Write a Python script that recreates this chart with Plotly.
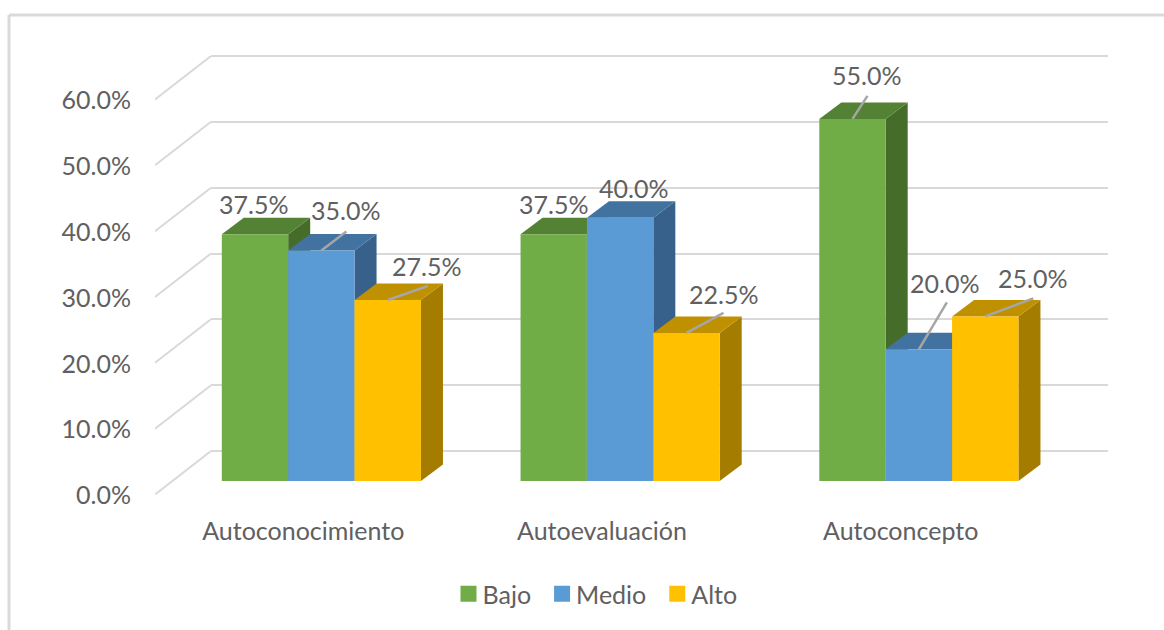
import plotly.graph_objects as go

categories = ["Autoconocimiento", "Autoevaluación", "Autoconcepto"]
series_names = ["Bajo", "Medio", "Alto"]
bajo = [37.5, 37.5, 55.0]
medio = [35.0, 40.0, 20.0]
alto = [27.5, 22.5, 25.0]
y_ticks = [0, 10, 20, 30, 40, 50, 60]
y_tick_labels = ["0.0%", "10.0%", "20.0%", "30.0%", "40.0%", "50.0%", "60.0%"]

front_colors = ["#70AD47", "#5B9BD5", "#FFC000"]
top_colors = ["#548235", "#4273A0", "#BF9000"]
side_colors = ["#466C2A", "#37618A", "#A47C00"]

FONT = "Lato"
FS = 25
TEXT = "#606060"
GRID = "#D9D9D9"
W, H = 1164, 630
cat_w = 298.75      # pixels per category
unit = 395 / 60.0   # pixels per percent
bar_w = (1 - 1 / 3) / 3
depth_x = 22 / cat_w
depth_y = 16.5 / unit

series = [bajo, medio, alto]
xs = list(range(len(categories)))


def dx(p0, p1):
    return [p0 / W, p1 / W]


def dy(bottom, top):
    return [1 - bottom / H, 1 - top / H]


fig = go.Figure()

# Front plane: carries the tick labels (x/y)
fig.add_trace(go.Scatter(x=[None], y=[None], xaxis="x", yaxis="y", showlegend=False))
# Back wall gridlines (x2/y2)
fig.add_trace(go.Scatter(x=[None], y=[None], xaxis="x2", yaxis="y2", showlegend=False))
# Left wall, joining each tick on the front plane to the back plane (x3/y3)
wall_rise = 43.5 / unit
wx, wy = [], []
for t in y_ticks:
    wx += [0, 1, None]
    wy += [t, t + wall_rise, None]
fig.add_trace(go.Scatter(x=wx, y=wy, mode="lines", xaxis="x3", yaxis="y3",
                         line=dict(color=GRID, width=2), showlegend=False, hoverinfo="skip"))

# Side and top faces, left to right, under the bar fronts (x4/y4)
for i in xs:
    for j, vals in enumerate(series):
        left = i + (j - 1.5) * bar_w
        right = left + bar_w
        v = vals[i]
        fig.add_trace(go.Scatter(
            x=[right, right + depth_x, right + depth_x, right, right],
            y=[0, depth_y, v + depth_y, v, 0],
            mode="lines", fill="toself", fillcolor=side_colors[j],
            line=dict(width=0, color=side_colors[j]),
            xaxis="x4", yaxis="y4", showlegend=False, hoverinfo="skip"))
        fig.add_trace(go.Scatter(
            x=[left, right, right + depth_x, left + depth_x, left],
            y=[v, v, v + depth_y, v + depth_y, v],
            mode="lines", fill="toself", fillcolor=top_colors[j],
            line=dict(width=0, color=top_colors[j]),
            xaxis="x4", yaxis="y4", showlegend=False, hoverinfo="skip"))

# Bar fronts (x5/y5)
for j, vals in enumerate(series):
    fig.add_trace(go.Bar(x=xs, y=vals, name=series_names[j], marker=dict(color=front_colors[j], line=dict(width=0)),
                         xaxis="x5", yaxis="y5", showlegend=False))

# Legend entries
for j, name in enumerate(series_names):
    fig.add_trace(go.Scatter(x=[None], y=[None], mode="markers", name=name,
                             marker=dict(symbol="square", size=16, color=front_colors[j]),
                             xaxis="x5", yaxis="y5"))

# Data labels: text offset and leader end, in pixels from the bar's top centre
label_offsets = [[(-1, 30), (24.5, 41), (39, 34)],
                 [(0, 30), (13, 30), (36.5, 39)],
                 [(14, 44), (25.5, 66), (47, 38)]]
leader_ends = [[None, (25, 19), (40, 14)],
               [None, None, (37, 20)],
               [(15, 23), (28, 47), (48, 18)]]
for i in xs:
    for j, vals in enumerate(series):
        cx = i + (j - 1) * bar_w
        v = vals[i]
        off = label_offsets[i][j]
        fig.add_annotation(x=cx, y=v, xref="x5", yref="y5", text=f"{v:.1f}%", showarrow=False,
                           xshift=off[0], yshift=off[1], font=dict(family=FONT, size=FS, color=TEXT),
                           xanchor="center", yanchor="middle")
        end = leader_ends[i][j]
        if end:
            fig.add_trace(go.Scatter(x=[cx, cx + end[0] / cat_w], y=[v, v + end[1] / unit], mode="lines",
                                     line=dict(color="#A6A6A6", width=2.5), xaxis="x5", yaxis="y5",
                                     showlegend=False, hoverinfo="skip"))

hidden = dict(visible=False, fixedrange=True)
x_range = [-0.5, 2.5]
y_range = [0, 60]
pad = 0.2  # keeps the first and last gridline inside the axis range

fig.update_layout(
    width=W, height=H, margin=dict(l=0, r=0, t=0, b=0, pad=0, autoexpand=False), autosize=False,
    paper_bgcolor="white", plot_bgcolor="rgba(0,0,0,0)", barmode="group", bargap=1 / 3, bargroupgap=0,
    font=dict(family=FONT, size=FS, color=TEXT), hovermode=False,
    xaxis=dict(domain=dx(154, 1050), range=x_range, tickmode="array", tickvals=xs, ticktext=categories,
               showgrid=False, zeroline=False, showline=False, ticks="", ticklabelstandoff=18,
               tickfont=dict(family=FONT, size=FS, color=TEXT), anchor="y", fixedrange=True),
    yaxis=dict(domain=dy(495.5, 100.5), range=y_range, tickmode="array", tickvals=y_ticks, ticktext=y_tick_labels,
               showgrid=False, zeroline=False, showline=False, ticks="", ticklabelstandoff=22,
               tickfont=dict(family=FONT, size=FS, color=TEXT), anchor="x", fixedrange=True),
    xaxis2=dict(domain=dx(211, 1108), range=x_range, anchor="y2", **hidden),
    yaxis2=dict(domain=dy(451 + pad * unit, 56 - pad * unit), range=[-pad, 60 + pad], anchor="x2",
                tickmode="array", tickvals=y_ticks,
                showgrid=True, gridcolor=GRID, gridwidth=2, zeroline=False, showline=False,
                showticklabels=False, ticks="", fixedrange=True),
    xaxis3=dict(domain=dx(155, 211), range=[0, 1], anchor="y3", **hidden),
    yaxis3=dict(domain=dy(494.5, 56), range=[0, 60 + wall_rise], anchor="x3", **hidden),
    xaxis4=dict(domain=dx(172, 1068.25), range=x_range, anchor="y4", **hidden),
    yaxis4=dict(domain=dy(481, 86), range=y_range, anchor="x4", **hidden),
    xaxis5=dict(domain=dx(172, 1068.25), range=x_range, anchor="y5", **hidden),
    yaxis5=dict(domain=dy(481, 86), range=y_range, anchor="x5", **hidden),
    legend=dict(orientation="h", x=598.5 / W, xanchor="center", y=1 - 594 / H, yanchor="middle",
                font=dict(family=FONT, size=FS, color=TEXT), itemwidth=30, bgcolor="rgba(0,0,0,0)"),
    shapes=[
        dict(type="line", xref="paper", yref="paper", x0=9 / W, x1=1, y0=1 - 15 / H, y1=1 - 15 / H,
             line=dict(color=GRID, width=3), layer="below"),
        dict(type="line", xref="paper", yref="paper", x0=9 / W, x1=9 / W, y0=1 - 15 / H, y1=0,
             line=dict(color=GRID, width=3), layer="below"),
    ],
)

fig.write_html("out.html", config=dict(displayModeBar=False),
               post_script="document.body.style.margin='0';"
                           "document.querySelectorAll('.legendtext').forEach(function(t){"
                           "t.setAttribute('x', parseFloat(t.getAttribute('x')) - 6);});")
